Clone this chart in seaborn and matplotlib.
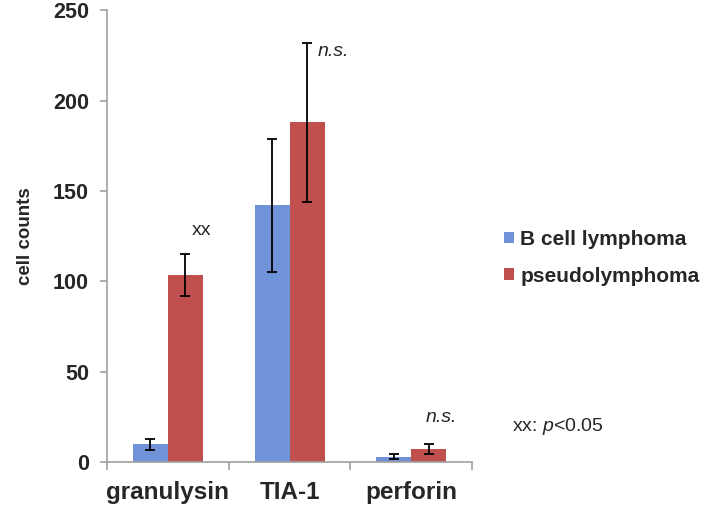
import pandas as pd
import matplotlib.pyplot as plt
import seaborn as sns

# values
markers = ['granulysin', 'TIA-1', 'perforin']
groups = ['B cell lymphoma', 'pseudolymphoma']
b_cell = [9.7, 142, 3.0]
b_cell_err = [3.0, 37, 1.2]
pseudo = [103.5, 188, 7.1]
pseudo_err = [11.7, 44, 2.8]

df = pd.DataFrame({
    'marker': markers * 2,
    'group': [groups[0]] * 3 + [groups[1]] * 3,
    'count': b_cell + pseudo,
    'err': b_cell_err + pseudo_err,
})

sns.set_style('white')
plt.rcParams['font.family'] = ['Liberation Sans', 'DejaVu Sans']
plt.rcParams['mathtext.fontset'] = 'custom'
plt.rcParams['mathtext.it'] = 'Liberation Sans:italic'
plt.rcParams['mathtext.rm'] = 'Liberation Sans'

fig = plt.figure(figsize=(7.09, 5.11), dpi=100)
ax = fig.add_axes([0.151, 0.096, 0.515, 0.884])

palette = {'B cell lymphoma': '#6f93d6', 'pseudolymphoma': '#c0504d'}
sns.barplot(data=df, x='marker', y='count', hue='group', order=markers,
            hue_order=groups, palette=palette, width=0.575, errorbar=None,
            saturation=1, linewidth=0, ax=ax)

# error bars at bar centres
for cont, g in zip(ax.containers, groups):
    sub = df[df['group'] == g].set_index('marker').loc[markers]
    xs = [p.get_x() + p.get_width() / 2 for p in cont.patches]
    ax.errorbar(xs, sub['count'], yerr=sub['err'], fmt='none', ecolor='black',
                elinewidth=1.3, capsize=3.5, capthick=1.3)

ax.set_ylim(0, 250)
ax.set_xlim(-0.5, 2.5)
ax.set_yticks([0, 50, 100, 150, 200, 250])
ax.set_xlabel('')
ax.set_ylabel('cell counts', fontsize=13.5, fontweight='bold', labelpad=14)

for s in ['top', 'right']:
    ax.spines[s].set_visible(False)
for s in ['left', 'bottom']:
    ax.spines[s].set_color('#a0a0a0')
    ax.spines[s].set_linewidth(1.2)

ax.tick_params(axis='y', length=5, width=1.2, color='#a0a0a0', direction='out',
               left=True, labelsize=15.5, pad=8)
for lab in ax.get_yticklabels():
    lab.set_fontweight('bold')
ax.tick_params(axis='x', which='major', length=0, labelsize=17.5, pad=14)
for lab in ax.get_xticklabels():
    lab.set_fontweight('bold')
ax.set_xticks([-0.5, 0.5, 1.5, 2.5], minor=True)
ax.tick_params(axis='x', which='minor', length=6, width=1.2, color='#a0a0a0',
               direction='out', bottom=True)

# significance notes
ax.text(0.28, 128, 'xx', fontsize=14, ha='center', va='center')
ax.text(1.23, 227, 'n.s.', fontsize=14, style='italic', ha='left', va='center')
ax.text(2.25, 24.5, 'n.s.', fontsize=14, style='italic', ha='center', va='center')
fig.text(0.722, 0.165, r'xx: $\mathit{p}$<0.05', fontsize=14, ha='left', va='center')

ax.legend(loc='center left', bbox_to_anchor=(1.035, 0.452), frameon=False,
          prop={'size': 15, 'weight': 'bold'}, handlelength=0.5,
          handleheight=0.5, handletextpad=0.3, labelspacing=0.85)

fig.savefig('out.png', dpi=100)
